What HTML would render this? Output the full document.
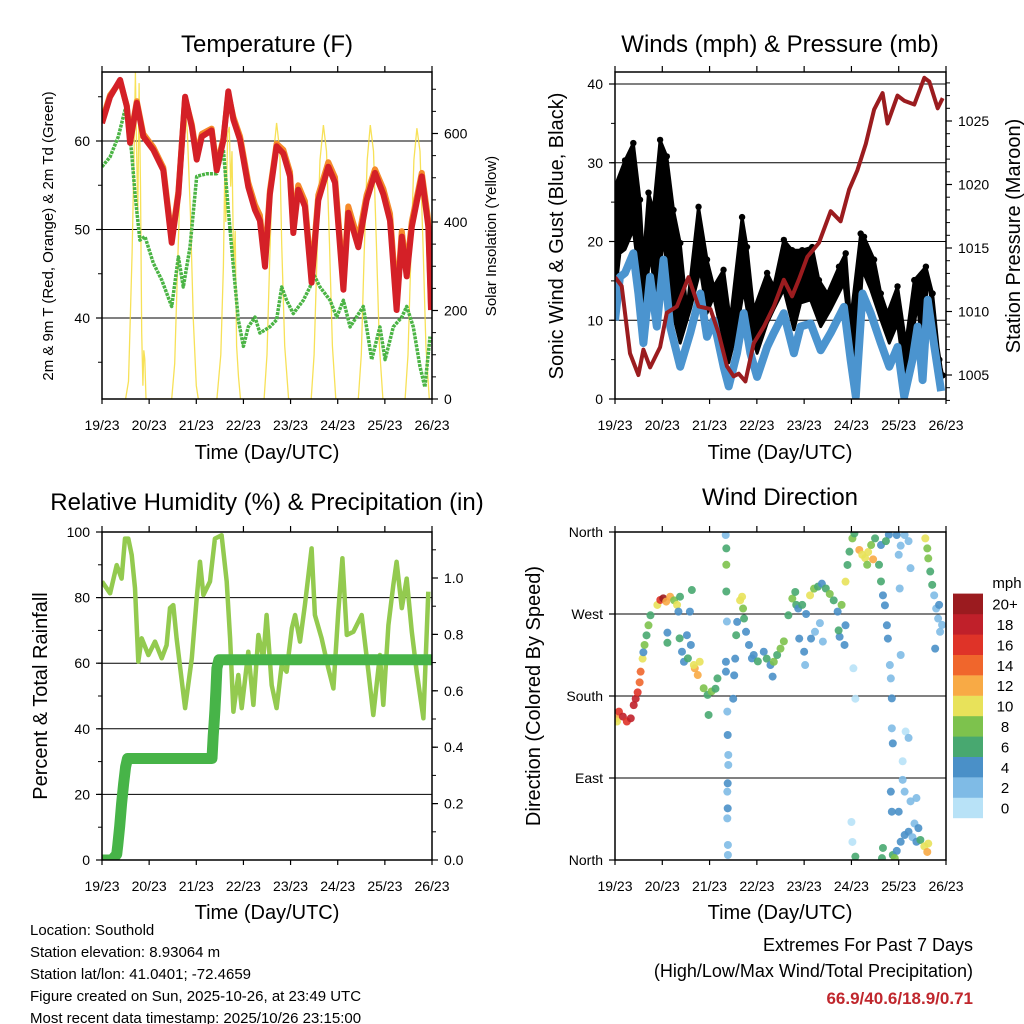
<!DOCTYPE html>
<html><head><meta charset="utf-8"><style>
html,body{margin:0;padding:0;background:#fff;}
svg{display:block;font-family:"Liberation Sans",Arial,sans-serif;}
</style></head><body>
<svg id="chart" width="1024" height="1024" viewBox="0 0 1024 1024" xmlns="http://www.w3.org/2000/svg">
<defs>
<clipPath id="c1"><rect x="102" y="72" width="330" height="327"/></clipPath>
<clipPath id="c2"><rect x="615" y="72" width="331" height="327"/></clipPath>
<clipPath id="c3"><rect x="102" y="532" width="330" height="328"/></clipPath>
<clipPath id="c4"><rect x="615" y="532" width="331" height="328"/></clipPath>
</defs>
<text x="267" y="52" font-size="24" text-anchor="middle">Temperature (F)</text>
<text x="780" y="52" font-size="24" text-anchor="middle">Winds (mph) &amp; Pressure (mb)</text>
<text x="267" y="510" font-size="24" text-anchor="middle">Relative Humidity (%) &amp; Precipitation (in)</text>
<text x="780" y="505" font-size="24" text-anchor="middle">Wind Direction</text>
<text x="267" y="459" font-size="20" text-anchor="middle">Time (Day/UTC)</text>
<text x="780" y="459" font-size="20" text-anchor="middle">Time (Day/UTC)</text>
<text x="267" y="919" font-size="20" text-anchor="middle">Time (Day/UTC)</text>
<text x="780" y="919" font-size="20" text-anchor="middle">Time (Day/UTC)</text>
<text transform="translate(53,236) rotate(-90)" font-size="15" text-anchor="middle">2m &amp; 9m T (Red, Orange) &amp; 2m Td (Green)</text>
<text transform="translate(496,236) rotate(-90)" font-size="15" text-anchor="middle">Solar Insolation (Yellow)</text>
<text transform="translate(563,236) rotate(-90)" font-size="20" text-anchor="middle">Sonic Wind &amp; Gust (Blue, Black)</text>
<text transform="translate(1020,236) rotate(-90)" font-size="20" text-anchor="middle">Station Pressure (Maroon)</text>
<text transform="translate(47,696) rotate(-90)" font-size="20" text-anchor="middle">Percent &amp; Total Rainfall</text>
<text transform="translate(540,696) rotate(-90)" font-size="20" text-anchor="middle">Direction (Colored By Speed)</text>
<g font-size="15">
<text x="30" y="935">Location: Southold</text>
<text x="30" y="957">Station elevation: 8.93064 m</text>
<text x="30" y="979">Station lat/lon: 41.0401; -72.4659</text>
<text x="30" y="1001">Figure created on Sun, 2025-10-26, at 23:49 UTC</text>
<text x="30" y="1023">Most recent data timestamp: 2025/10/26 23:15:00</text>
</g>
<g text-anchor="end">
<text x="973" y="951" font-size="18">Extremes For Past 7 Days</text>
<text x="973" y="977" font-size="18">(High/Low/Max Wind/Total Precipitation)</text>
<text x="973" y="1004" font-size="17" font-weight="bold" fill="#c0272d">66.9/40.6/18.9/0.71</text>
</g>
<text x="1007" y="588" font-size="15" text-anchor="middle">mph</text>
</svg>
<script>
// ===== data =====
const dayLabels=['19/23','20/23','21/23','22/23','23/23','24/23','25/23','26/23'];
const tempTicks=[40,50,60];
const solarTicks=[0,200,400,600];
const windTicks=[0,10,20,30,40];
const presTicks=[1005,1010,1015,1020,1025];
const rhTicks=[0,20,40,60,80,100];
const rainTicks=[0.0,0.2,0.4,0.6,0.8,1.0];
const dirLabels=['North','East','South','West','North'];
const dirTicks=[0,90,180,270,360];
const speedLabels=['0','2','4','6','8','10','12','14','16','18','20+'];
const speedColors=['#b8e2f7','#7fbbe6','#4a90c8','#48a870','#7dc24d','#e8e25a','#f8aa45','#f0662c','#df3328','#c0202a','#9b1b1f'];

const tempHours=[0,4.1,9.2,12.6,14.3,17.7,21,26.1,31.2,35.5,38.9,42.3,45.7,48.2,50.8,55.8,58.4,61.8,64.3,66.9,70.3,74.5,77.9,80.4,83,85.5,88.9,92.3,95.7,97.4,99.9,103.3,106.7,110.1,115.2,118.6,122.9,125.4,130.5,134.7,139,143.2,146.6,150,152.6,155.1,157.7,162.8,166.1,167.5];
const temp2m=[62,65,66.9,63.9,59.8,64.3,60.5,59,56.7,48.5,54,65,61.6,57.9,60.5,61.2,56.7,60.1,65.6,62.4,60.1,54.8,52.2,51,45.8,54,59.4,58.6,56,49.6,54.5,52.6,44,53.3,57.1,55.3,43.2,51.9,48,53.3,56.4,54,51,40.9,49.2,44.7,50.3,56,50.3,40.9];
const temp9m=[62.3,65.2,66.7,64,60.2,64.5,60.8,59.3,57,48.9,54.3,64.8,61.9,58.3,60.8,61.4,57.1,60.3,65.3,62.7,60.5,55.3,52.8,51.6,46.5,54.4,59.7,59,56.5,50.2,55,53.2,44.6,53.9,57.6,55.9,44,52.6,48.8,53.9,56.8,54.6,51.8,41.8,49.8,45.4,50.9,56.4,51,41.5];
const dewHours=[0,4.1,8.3,11.7,13.4,15.1,16.8,19.3,21.9,26.1,30.4,35.5,38.9,41.4,44.8,48.2,53.3,58.4,61.8,64.3,66.9,69.4,72,74.5,77.9,80.4,85.5,88.9,91.5,94,97.4,102.5,105.9,107.6,111,116.1,119.5,122.9,126.3,133,137.3,141.5,144.1,148.3,152.6,155.1,158.5,161.9,164.4,167];
const dewPoint=[57.1,58.2,60.5,63.5,62.4,58.6,54,48.8,49.2,46.2,44.3,41.3,46.9,43.5,48,56,56.3,56.3,59,52.2,45.8,39.8,36.8,39,40.1,38.3,39,39.8,43.5,42,40.5,42,43.5,45,43.5,42,40.1,42,39,41.3,35.3,39,35.3,39,40.1,41.3,39,34.5,32.2,37.9];
const solarHours=[12,13.5,14.5,15.3,16.2,17,17.6,18.2,18.9,19.6,20.2,20.8,21.3,21.8,22.4,35.5,37,38.5,40,41.5,42.3,43.5,45,46.5,48,49,58.5,60.5,61.8,62.5,63,64,64.8,65.5,66.2,67,67.8,68.5,69.5,70.5,82.5,84,85.5,87,88.9,90.5,91.5,93,95,106.5,108,109.5,111,112.7,114.3,115.8,117.3,119,130.5,132,133.5,135,136.6,138.2,139.7,141.2,143,154.3,155.8,157.3,158.8,160.3,161.9,163.4,164.9,166.6];
const solarValues=[0,40,200,330,520,738,560,420,714,480,150,30,110,90,0,0,80,300,520,640,660,600,420,180,30,0,0,100,300,520,400,600,615,480,560,300,380,120,50,0,0,100,330,540,624,560,350,120,0,0,100,330,540,619,560,350,120,0,0,100,330,540,619,560,350,120,0,0,100,330,540,612,560,350,120,0];

const gustHours=[0,5.1,9.3,12.7,14.4,17,19.5,22.9,26.3,29.7,33.1,36.5,42.4,46.7,50.1,55.1,58.5,64.5,67,70.4,77.2,80.6,85.7,89.9,95,100.1,103.5,107.8,113.7,117.1,119.6,124.7,126.4,131.5,134.9,138.3,143.4,147.6,151.9,157.8,161.2,164.6,166.3];
const gustValues=[27,30.3,32.5,25.3,17.7,26.2,24,32.9,30.8,24,19.8,11.3,24.4,17.7,14.3,16.4,10,23.1,19.3,11.3,16,14.3,20.2,18.9,18.9,19.3,15.1,13.4,16.8,18.5,10,21,20.6,17.7,13.4,10.9,14.3,7.1,15.1,16.8,13.4,5,3];
const sonicHours=[0,2.5,5.1,9.3,11.9,14.4,17.8,21.2,24.6,28,33.1,38.2,43.3,46.7,50.1,55.1,57.7,61.9,65.3,68.7,72.1,77.2,80.6,85.7,90.8,94.2,99.3,104.4,109.5,116.2,119.6,122.2,125.6,129.8,134.9,139.2,143.4,146.8,151,153.6,156.1,158.7,162.1,165.5];
const sonicValues=[10,15.5,16,18.5,13.4,7.1,15.5,9.2,17.7,9.2,4.1,8.4,13.4,7.9,10,4.1,1.6,5.8,10.9,5.8,2.8,6.6,8.4,10.9,5.8,9.2,9.6,6.2,8.4,11.7,5,0.3,13.4,10.9,7.1,4.1,6.6,0.3,5,9.2,2.4,12.6,6.6,1];
const presHours=[0,3.4,7.6,11.9,14.4,17.8,22.9,26.3,31.4,37.3,42.4,48.4,52.6,56.8,60.2,62.8,66.2,70.4,75.5,80.6,85.7,89.9,93.3,97.6,103.5,109.5,114.5,118.8,123,127.3,131.5,135.8,138.3,143.4,146.8,151.9,157,159.5,163.8,166.3];
const presValues=[1012.7,1012,1006.7,1005,1007,1005.6,1007.2,1009.9,1010.4,1012.7,1010.4,1010.2,1008.3,1005.7,1004.9,1005.1,1004.5,1007.5,1008.8,1010.4,1012.5,1011.2,1012.5,1014.3,1015.4,1017.9,1017.1,1019.6,1021.1,1023.2,1025.9,1027.2,1024.8,1027,1026.6,1026.3,1028.4,1028.1,1026,1026.8];

const rhHours=[0,4.1,7.5,10,11.7,13.4,15.1,16.8,18.5,20.2,23.6,27,30.4,32.9,34.6,36.3,38,42.3,45.7,48.2,49.9,51.6,55,57.5,60.9,63.5,65.2,66.9,69.4,71.1,74.5,77.1,79.6,82.1,83.8,86.4,88.9,91.5,94,96.6,98.3,100.8,103.3,106.7,108.4,111.8,115.2,117.8,120.3,122.4,124.6,128,130.5,132.2,135.6,138.1,141.5,143.2,145.8,148.3,150,152.6,155.1,157.7,160.2,163.6,166.1];
const rhValues=[84.9,81.3,89.9,85.8,98,98,93,82.9,60.5,67.6,62.5,66.6,61.5,65.5,76.8,77.7,67.6,46.3,61.5,79.8,90.9,80.8,84.9,98,99,84.9,67.6,45.2,56.4,46.3,63.5,47.3,68.6,61.5,74.7,53.3,46.3,59.5,57.4,70.6,74.7,66.6,77.7,95,74.7,67.6,58.5,52.3,75.7,92,68.6,69.6,72.6,74.7,57.4,44.2,62.5,47.3,71.6,83.8,90.9,76.8,85.8,69.6,57.4,43.2,81.8];
const rainHours=[0,5,7.5,8,9,10,11,12,13,30,56,56.3,56.6,57,57.5,58,58.5,59.5,168];
const rainValues=[0,0,0.02,0.05,0.12,0.2,0.27,0.33,0.36,0.36,0.36,0.40,0.44,0.48,0.53,0.6,0.68,0.71,0.71];

const dirHours=[0.5,1,2,4,6,8,9.5,10.5,11.5,12.5,13,14,14.4,15,16,17,18,21.5,23,24.5,26,28,30,31.5,33,26.6,26.6,32.2,32.8,34,35,36.5,38,39,37,38.5,40.5,42,43,40,45,47,49,51,52,47.5,56.2,56.5,56.5,56.5,56.8,56.3,56.3,57,57.2,57.5,57.5,57.2,57,57.2,57,57.3,57.3,60,60.5,61,61.5,62,63.5,64.5,65,65.5,66.5,68,69.5,70.4,72.5,75.5,77,78.9,80.6,82.3,84,85.7,80,88,90,91.5,92,93,95,97,99,101,103,105,107,109,111,113,115,117,104,105.5,101.5,99.5,96,93.5,96.5,114,116.5,113.5,117,118,119,120.5,121.5,121,122,120,120.5,122,124,125.5,127,128.5,130,128,132,131,134,135,136,137,138,138.5,139.5,140,140.5,140.5,141,140,140.5,136,135.5,135,139,137.5,143,145,147,149,150,144,144.5,145,141,143,145,147,149,151,153,155,157,158.5,159,147,146,150,153,147.5,146,149,144,142,152,154,157.5,158.5,159,160,161,162,163,164,165,164.5,162.5,166];
const dirValues=[155.5,152,162.9,157.4,152,155.5,170,177,184,195,206.7,221,228,236,246.6,257.6,268.6,279.9,285.4,287.2,283.6,289,285,280,289,249.5,238.4,272.6,243.3,228.6,217.6,246.7,272.6,296.3,221.3,236,210.4,203,217.6,214,188.5,181.2,185,188,199.3,159.2,356.7,342,324,294.7,261.7,217.6,206.7,162.9,137.2,115.3,104.3,84.2,75,56.7,45.7,16.5,5.5,177,202.7,221,246.7,261.3,285,289,276,265,250.5,236,221.3,225,218,228.6,221,214,217.6,225,232,240,201.3,268.6,286.9,294.2,280,276,280,270,290.5,297.8,300,303.3,298,292,285,272.6,280,257.6,260,239.7,250.5,243,228.6,243,214,245,236,252,305.5,323.8,338.4,353,358.5,210.4,177,41.7,19.8,3.7,340.3,335,331.3,338,345.7,324,353,330,324,305.7,290.5,279.5,257.6,243,214,199.3,177.4,144.5,128,75,53,13.2,2,345.7,357,350,356.7,345,356.7,350,320.3,335,298,225,5.5,10,20,27.4,31,25,20,22,15,8.8,18,75,88,64.4,68,141,108.4,134,53,2,40,35,353,342,331,316.6,302,290.5,276,265,250.5,280,232,258];
const dirSpeeds=[12,10,16,18,17,18,18,19,16,14,14,10,4,8,6,8,6,10,16,20,12,12,8,10,6,4,6,4,6,4,4,4,4,6,6,4,12,12,10,10,8,6,8,6,6,6,2,6,8,6,2,4,4,2,4,2,2,4,2,4,2,2,2,4,4,4,6,4,10,10,8,6,4,4,4,4,6,4,6,4,8,6,8,8,4,6,8,6,6,4,6,4,10,8,6,4,6,8,6,4,8,4,2,2,2,4,4,4,2,4,4,6,10,6,6,8,6,0,0,0,0,6,12,10,10,10,8,8,6,12,6,6,4,4,4,4,2,2,4,2,4,4,4,6,6,4,4,6,4,2,2,2,2,2,2,2,6,4,4,4,4,2,4,6,10,12,10,2,2,2,2,0,0,2,4,8,2,4,10,8,8,6,6,2,2,2,2,4,4,2];

// ===== helpers =====
const NS='http://www.w3.org/2000/svg';
const svg=document.getElementById('chart');
function mk(tag,attrs,parent){const e=document.createElementNS(NS,tag);for(const k in attrs)e.setAttribute(k,attrs[k]);(parent||svg).appendChild(e);return e;}
const HMAX=168;
function xA(h){return 102+h*330/HMAX;}
function xB(h){return 615+h*331/HMAX;}
function yTemp(v){return 141+(60-v)*8.85;}
function ySolar(v){return 399-v*0.4425;}
function yWind(v){return 399-v*7.875;}
function yPres(p){return 375-(p-1005)*12.7;}
function yRH(v){return 860-v*3.28;}
function yRain(v){return 860-v*282;}
function yDir(d){return 860-d*328/360;}
function pts(hs,vs,fx,fy){return hs.map((h,i)=>fx(h).toFixed(1)+','+fy(vs[i]).toFixed(1)).join(' ');}

function xAxis(fx,y0,y1,name){
  const g=mk('g',{});
  
  
  dayLabels.forEach((lab,i)=>{
    const x=fx(i*24);
    mk('line',{x1:x,x2:x,y1:y1,y2:y1+5,stroke:'#000','stroke-width':1.2},g);
    mk('line',{x1:x,x2:x,y1:y0,y2:y0-6,stroke:'#000','stroke-width':1.2},g);
    const t=mk('text',{x:x,y:y1+31,'font-size':14,'text-anchor':'middle'},g);
    t.textContent=lab;
    
    
  });
}
function yTicks(ticks,fy,x,side,fmt,name,minor){
  const g=mk('g',{});
  
  
  const d=side==='left'?-1:1;
  (minor||[]).forEach(v=>{const y=fy(v);mk('line',{x1:x,x2:x+d*4,y1:y,y2:y,stroke:'#000','stroke-width':1},g);});
  ticks.forEach((v,i)=>{
    const y=fy(v);
    mk('line',{x1:x,x2:x+d*6,y1:y,y2:y,stroke:'#000','stroke-width':1.2},g);
    const t=mk('text',{x:x+d*12,y:y+5,'font-size':14,'text-anchor':side==='left'?'end':'start'},g);
    t.textContent=fmt(v,i);
    
    
  });
}
function hgrid(vals,fy,x0,x1,name){
  vals.forEach(v=>{const y=fy(v);const l=mk('line',{x1:x0,x2:x1,y1:y,y2:y,stroke:'#000','stroke-width':1});
    
    });
}
function box(x,y,w,h,name){const r=mk('rect',{x:x,y:y,width:w,height:h,fill:'none',stroke:'#000','stroke-width':1.5});
  
  }
function range(a,b,s){const r=[];for(let v=a;v<=b+1e-9;v+=s)r.push(+v.toFixed(3));return r;}

// ===== Panel 1: temperature =====
hgrid([40,50,60],yTemp,102,432,'temp-gridline');
let g1=mk('g',{'clip-path':'url(#c1)'});


let s=mk('polyline',{points:pts(solarHours,solarValues,xA,ySolar),fill:'none',stroke:'#f6dc3a','stroke-width':1.3,'stroke-opacity':0.85},g1);


s=mk('polyline',{points:pts(dewHours,dewPoint,xA,yTemp),fill:'none',stroke:'#4bb445','stroke-width':3.5,'stroke-dasharray':'3 1','stroke-linejoin':'round'},g1);


s=mk('polyline',{points:pts(tempHours,temp9m,xA,yTemp),fill:'none',stroke:'#f58a2a','stroke-width':6,'stroke-linejoin':'round'},g1);


s=mk('polyline',{points:pts(tempHours,temp2m,xA,yTemp),fill:'none',stroke:'#d42027','stroke-width':6,'stroke-linejoin':'round'},g1);


box(102,72,330,327,'temperature-plot-frame');
xAxis(xA,72,399,'temperature');
yTicks(tempTicks,yTemp,102,'left',v=>String(v),'temp-y-axis',range(35,65,5));
yTicks(solarTicks,ySolar,432,'right',v=>String(v),'solar-y-axis',range(0,700,50));

// ===== Panel 2: winds =====
hgrid([10,20,30,40],yWind,615,946,'wind-gridline');
let g2=mk('g',{'clip-path':'url(#c2)'});


const band=pts(gustHours,gustValues,xB,yWind)+' '+pts(sonicHours.slice().reverse(),sonicValues.slice().reverse(),xB,v=>yWind(v+3));
s=mk('polygon',{points:band,fill:'#000','stroke':'#000','stroke-width':3,'stroke-linejoin':'round'},g2);


gustHours.forEach((h,i)=>{
  const c=mk('circle',{cx:xB(h),cy:yWind(gustValues[i]),r:3.2,fill:'#000'},g2);
  
  
});
s=mk('polyline',{points:pts(sonicHours,sonicValues,xB,yWind),fill:'none',stroke:'#4b94cf','stroke-width':8,'stroke-linejoin':'round'},g2);


s=mk('polyline',{points:pts(presHours,presValues,xB,yPres),fill:'none',stroke:'#9b1c1f','stroke-width':4,'stroke-linejoin':'round'},g2);


box(615,72,331,327,'winds-plot-frame');
xAxis(xB,72,399,'winds');
yTicks(windTicks,yWind,615,'left',v=>String(v),'wind-y-axis',range(0,40,5));
yTicks(presTicks,yPres,946,'right',v=>String(v),'pressure-y-axis',range(1003,1028,1));

// ===== Panel 3: humidity =====
hgrid([20,40,60,80],yRH,102,432,'humidity-gridline');
let g3=mk('g',{'clip-path':'url(#c3)'});


s=mk('polyline',{points:pts(rhHours,rhValues,xA,yRH),fill:'none',stroke:'#93ca4f','stroke-width':4.5,'stroke-linejoin':'round'},g3);


s=mk('polyline',{points:pts(rainHours,rainValues,xA,yRain),fill:'none',stroke:'#47b448','stroke-width':11,'stroke-linejoin':'round','stroke-linecap':'round'},g3);


box(102,532,330,328,'humidity-plot-frame');
xAxis(xA,532,860,'humidity');
yTicks(rhTicks,yRH,102,'left',v=>String(v),'humidity-y-axis',range(0,100,10));
yTicks(rainTicks,yRain,432,'right',v=>v.toFixed(1),'rainfall-y-axis',range(0,1.16,0.1));

// ===== Panel 4: wind direction =====
hgrid([90,180,270],yDir,615,946,'direction-gridline');
let g4=mk('g',{'clip-path':'url(#c4)'});


dirHours.forEach((h,i)=>{
  const idx=Math.min(10,Math.floor(dirSpeeds[i]/2));
  const c=mk('circle',{cx:xB(h),cy:yDir(dirValues[i]),r:4,fill:speedColors[idx],'fill-opacity':0.9},g4);
  
  
});
box(615,532,331,328,'direction-plot-frame');
xAxis(xB,532,860,'direction');
yTicks(dirTicks,yDir,615,'left',(v,i)=>dirLabels[i],'direction-y-axis');
// colorbar
const cb=mk('g',{});


speedLabels.forEach((lab,i)=>{
  const y=818-(i+1)*20.4;
  const r=mk('rect',{x:953,y:y,width:30,height:20.6,fill:speedColors[i]},cb);
  
  
  const t=mk('text',{x:1005,y:y+16,'font-size':15,'text-anchor':'middle'},cb);
  t.textContent=lab;
  
  
});
</script>
</body></html>
